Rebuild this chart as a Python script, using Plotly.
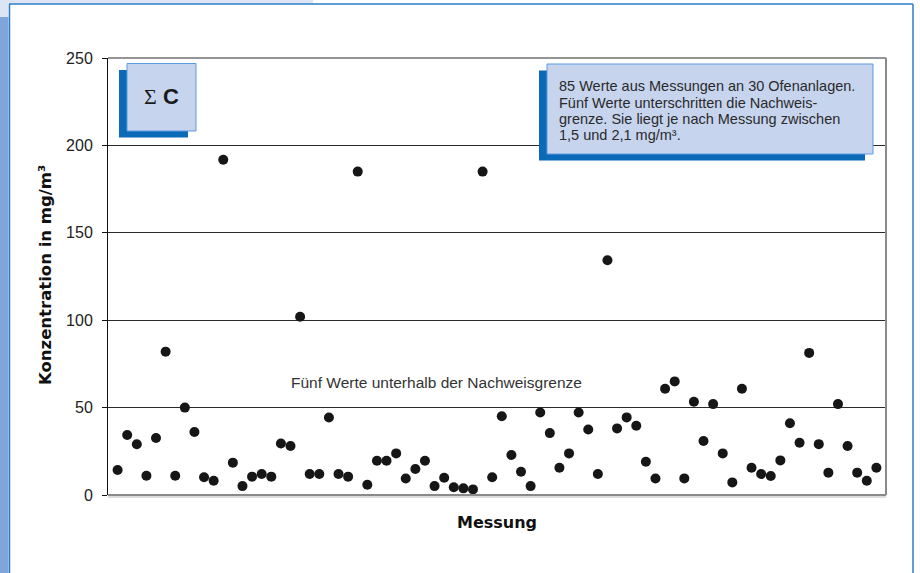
import plotly.graph_objects as go

# ---- data ----
messung = list(range(1, 81))
konzentration = [14.3, 34.3, 29.0, 11.0, 32.6, 82.0, 11.0, 50.0, 36.0, 10.2,
                 8.2, 191.8, 18.5, 5.1, 10.5, 12.0, 10.5, 29.5, 28.0, 102.0,
                 12.0, 12.0, 44.3, 12.0, 10.5, 185.0, 5.9, 19.6, 19.6, 23.8,
                 9.4, 14.9, 19.6, 5.1, 9.9, 4.4, 3.8, 3.2, 185.0, 10.2,
                 45.1, 22.9, 13.3, 5.1, 47.2, 35.4, 15.6, 23.8, 47.2, 37.5,
                 12.0, 134.3, 38.1, 44.4, 39.6, 19.0, 9.4, 60.8, 65.0, 9.5,
                 53.3, 30.9, 52.0, 23.8, 7.2, 60.8, 15.6, 12.0, 10.9, 19.8,
                 41.0, 29.9, 81.3, 29.1, 12.8, 52.0, 28.0, 12.8, 8.2, 15.6]
y_ticks = [0, 50, 100, 150, 200, 250]
info_lines = ["85 Werte aus Messungen an 30 Ofenanlagen.",
              "Fünf Werte unterschritten die Nachweis-",
              "grenze. Sie liegt je nach Messung zwischen",
              "1,5 und 2,1 mg/m³."]
note_text = "Fünf Werte unterhalb der Nachweisgrenze"

W, H = 920, 573
L, R, T, B = 108, 886, 58, 495


def px(x):
    return (x - L) / (R - L)


def py(y):
    return (B - y) / (B - T)


fig = go.Figure()
fig.add_trace(go.Scatter(x=messung, y=konzentration, mode="markers",
                         marker=dict(size=10, color="#161616"),
                         hoverinfo="skip", showlegend=False))

shapes = []
# page decorations
shapes.append(dict(type="rect", xref="paper", yref="paper", x0=px(0), x1=px(313), y0=py(0), y1=py(3.5),
                   fillcolor="#dde4f4", line_width=0, layer="below"))
shapes.append(dict(type="rect", xref="paper", yref="paper", x0=px(0), x1=px(8.5), y0=py(0), y1=py(17),
                   fillcolor="#dde4f4", line_width=0, layer="below"))
shapes.append(dict(type="rect", xref="paper", yref="paper", x0=px(0), x1=px(8.5), y0=py(17), y1=py(573),
                   fillcolor="#7fa6da", line_width=0, layer="below"))
shapes.append(dict(type="line", xref="paper", yref="paper", x0=px(9), x1=px(913), y0=py(4), y1=py(4),
                   line=dict(color="#2b7cc6", width=1.5)))
shapes.append(dict(type="line", xref="paper", yref="paper", x0=px(9.5), x1=px(9.5), y0=py(4), y1=py(573),
                   line=dict(color="#2b7cc6", width=1.5)))
shapes.append(dict(type="line", xref="paper", yref="paper", x0=px(913), x1=px(913), y0=py(4), y1=py(573),
                   line=dict(color="#2b7cc6", width=1.5)))
# plot frame lines
shapes.append(dict(type="line", xref="paper", yref="paper", x0=0, x1=1, y0=1, y1=1,
                   line=dict(color="#2a2a2a", width=1)))
shapes.append(dict(type="line", xref="paper", yref="paper", x0=1, x1=1, y0=0, y1=1,
                   line=dict(color="#8a8a8a", width=2)))
shapes.append(dict(type="line", xref="paper", yref="paper", x0=0, x1=1, y0=py(497), y1=py(497),
                   line=dict(color="#dcdcdc", width=2)))
shapes.append(dict(type="line", xref="paper", yref="paper", x0=0, x1=1, y0=0, y1=0,
                   line=dict(color="#8a8a8a", width=2)))
# sigma box
shapes.append(dict(type="rect", xref="paper", yref="paper", x0=px(119), x1=px(188), y0=py(137.5), y1=py(70),
                   fillcolor="#0a6ab7", line_width=0))
shapes.append(dict(type="rect", xref="paper", yref="paper", x0=px(127), x1=px(196), y0=py(131), y1=py(63.5),
                   fillcolor="#c6d4ee", line=dict(color="#5b9be0", width=1)))
# info box
shapes.append(dict(type="rect", xref="paper", yref="paper", x0=px(539), x1=px(865), y0=py(160.5), y1=py(70.5),
                   fillcolor="#0a6ab7", line_width=0))
shapes.append(dict(type="rect", xref="paper", yref="paper", x0=px(547), x1=px(873), y0=py(154), y1=py(64),
                   fillcolor="#c6d4ee", line=dict(color="#5b9be0", width=1)))

annotations = []
annotations.append(dict(xref="paper", yref="paper", x=px(161), y=py(96), xanchor="center", yanchor="middle",
                        text="<span style='font-family:Liberation Serif'>Σ</span> <b>C</b>",
                        showarrow=False, font=dict(family="Liberation Sans", size=22, color="#1a1a1a")))
for i, line in enumerate(info_lines):
    annotations.append(dict(xref="paper", yref="paper", x=px(558), y=py(86.5 + 16.2 * i),
                            xanchor="left", yanchor="middle", text=line, showarrow=False, borderpad=0,
                            font=dict(family="Liberation Sans", size=14.5, color="#2a2a2a")))
annotations.append(dict(x=34.2, y=64.6, xref="x", yref="y", xanchor="center", yanchor="middle",
                        text=note_text, showarrow=False,
                        font=dict(family="Liberation Sans", size=15.5, color="#333333")))
annotations.append(dict(xref="paper", yref="paper", x=px(45), y=py(275), xanchor="center", yanchor="middle",
                        textangle=-90, text="<b>Konzentration in mg/m³</b>", showarrow=False,
                        font=dict(family="DejaVu Sans", size=16.5, color="#111111")))
annotations.append(dict(xref="paper", yref="paper", x=px(497), y=py(522), xanchor="center", yanchor="middle",
                        text="<b>Messung</b>", showarrow=False,
                        font=dict(family="DejaVu Sans", size=16, color="#111111")))

fig.update_layout(
    width=W, height=H,
    margin=dict(l=L, r=W - R, t=T, b=H - B, pad=0),
    paper_bgcolor="white", plot_bgcolor="white",
    shapes=shapes, annotations=annotations,
    xaxis=dict(range=[0, 81], showgrid=False, zeroline=False, showticklabels=False,
               showline=False, ticks="", fixedrange=True),
    yaxis=dict(range=[0, 250], tickvals=y_ticks, showgrid=True, gridcolor="#2a2a2a", gridwidth=1,
               zeroline=False, showline=True, linecolor="#111111", linewidth=1,
               ticks="outside", ticklen=5, tickcolor="#111111", ticklabelstandoff=6,
               tickfont=dict(family="Liberation Sans", size=16, color="#222222"), fixedrange=True),
    showlegend=False,
)

fig.write_html("out.html")
